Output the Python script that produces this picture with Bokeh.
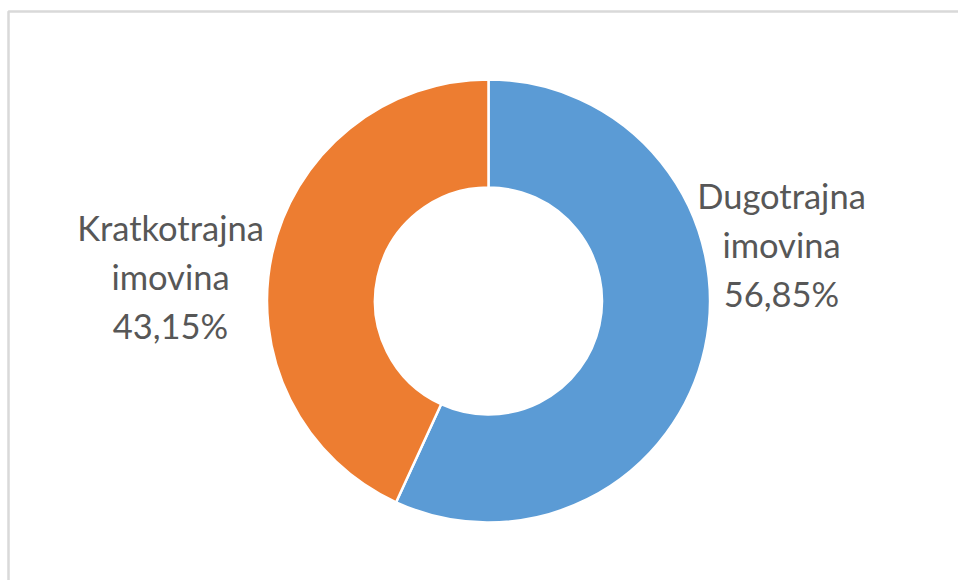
import math
from bokeh.plotting import figure
from bokeh.models import Range1d, ColumnDataSource
from bokeh.core.properties import value
from bokeh.embed import file_html
from bokeh.resources import INLINE

# ---- data ----
categories = ["Dugotrajna imovina", "Kratkotrajna imovina"]
shares = [56.85, 43.15]
colors = ["#5B9BD5", "#ED7D31"]
label_lines = [["Dugotrajna", "imovina"], ["Kratkotrajna", "imovina"]]

# ---- layout (pixel-like data space) ----
W, H = 958, 580
cx, cy = 488, H - 300.5
r_in, r_out = 113.5, 221.5
label_pos = [(781, H - 244), (170, H - 276)]

p = figure(width=W, height=H, output_backend="svg", toolbar_location=None,
           x_range=Range1d(0, W), y_range=Range1d(0, H),
           min_border=0, outline_line_color=None, background_fill_color="white")
p.axis.visible = False
p.grid.visible = False

# chart border
p.quad(left=[8], right=[W + 10], bottom=[-10], top=[H - 11],
       fill_color=None, line_color="#D9D9D9", line_width=2.5)

total = sum(shares)
starts, ends = [], []
a = math.pi / 2
for s in shares:
    starts.append(a)
    a -= 2 * math.pi * s / total
    ends.append(a)

src = ColumnDataSource(dict(start=starts, end=ends, color=colors, cat=categories))
p.annular_wedge(x=cx, y=cy, inner_radius=r_in, outer_radius=r_out,
                start_angle="start", end_angle="end", direction="clock",
                fill_color="color", line_color="white", line_width=2.5, source=src)

texts = []
for lines, s in zip(label_lines, shares):
    pct = f"{s:.2f}".replace(".", ",") + "%"
    texts.append("\n".join(lines + [pct]))

lsrc = ColumnDataSource(dict(x=[q[0] for q in label_pos], y=[q[1] for q in label_pos], t=texts))
p.text(x="x", y="y", text="t", source=lsrc, text_font=value("Lato"),
       text_font_size="34.5px", text_color="#575757", text_align="center",
       text_baseline="middle", text_line_height=1.19)

open("out.html", "w").write(file_html(p, INLINE))
